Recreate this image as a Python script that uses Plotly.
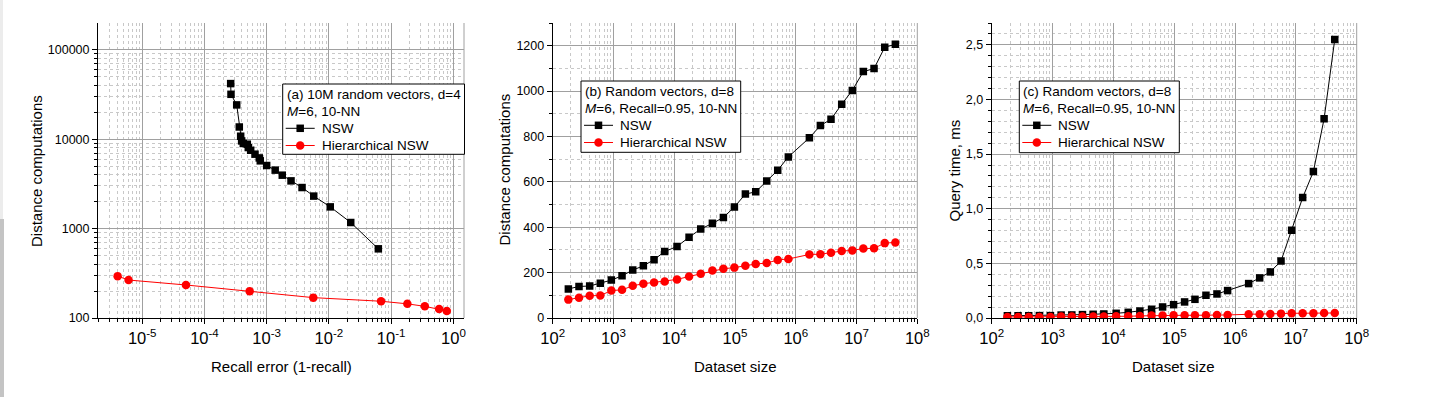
import plotly.graph_objects as go

# ---------------- data ----------------
# (a) recall error vs distance computations
a_nsw_err = [2.64e-4, 2.67e-4, 3.30e-4, 3.63e-4, 3.82e-4, 3.96e-4, 4.21e-4, 4.88e-4, 5.06e-4,
             5.53e-4, 6.49e-4, 7.60e-4, 7.89e-4, 1.0e-3, 1.37e-3, 1.78e-3, 2.46e-3, 3.70e-3,
             5.70e-3, 1.05e-2, 2.24e-2, 6.22e-2]
a_nsw_dist = [41900, 31800, 24200, 13700, 10800, 9570, 8960, 8790, 8070, 7530, 6800, 6180,
              5730, 5080, 4510, 3960, 3420, 2880, 2310, 1750, 1170, 594]
a_hnsw_err = [4.03e-6, 6.04e-6, 5.05e-5, 5.33e-4, 5.61e-3, 6.88e-2, 0.182, 0.347, 0.589, 0.783]
a_hnsw_dist = [294, 266, 234, 199, 169, 154, 144, 135, 126, 120]

# dataset sizes shared by (b) and (c)
sizes = [181, 271, 406, 608, 923, 1384, 2075, 3105, 4656, 6966, 11117, 17539, 27290, 42460,
         64420, 97720, 148250, 219300, 332650, 504700, 755100, 1675000, 2541000, 3802000,
         5702000, 8531000, 12940000, 19410000, 29110000, 43550000]

# (b) distance computations
b_nsw = [128, 139, 141, 153, 167, 186, 211, 230, 257, 293, 315, 356, 392, 417, 443, 489, 546,
         556, 604, 651, 710, 794, 848, 876, 942, 1003, 1086, 1099, 1193, 1206]
b_hnsw = [81, 89, 98, 99, 121, 124, 142, 151, 156, 161, 170, 183, 195, 209, 217, 222, 230, 238,
          242, 256, 260, 280, 281, 288, 295, 298, 306, 307, 330, 333]

# (c) query time, ms
c_nsw = [0.020, 0.021, 0.021, 0.022, 0.022, 0.027, 0.028, 0.031, 0.034, 0.037, 0.043, 0.052,
         0.064, 0.080, 0.101, 0.122, 0.147, 0.171, 0.208, 0.220, 0.251, 0.315, 0.367, 0.422,
         0.522, 0.803, 1.102, 1.340, 1.823, 2.549]
c_hnsw = [0.010, 0.010, 0.010, 0.010, 0.010, 0.013, 0.013, 0.013, 0.013, 0.013, 0.016, 0.016,
          0.019, 0.022, 0.022, 0.025, 0.025, 0.025, 0.025, 0.028, 0.028, 0.034, 0.034, 0.037,
          0.040, 0.043, 0.043, 0.043, 0.046, 0.046]

legend_headers = [["(a) 10M random vectors, d=4", "<i>M</i>=6, 10-NN"],
                  ["(b) Random vectors, d=8", "<i>M</i>=6, Recall=0.95, 10-NN"],
                  ["(c) Random vectors, d=8", "<i>M</i>=6, Recall=0.95, 10-NN"]]
series_names = ["NSW", "Hierarchical NSW"]
x_titles = ["Recall error (1-recall)", "Dataset size", "Dataset size"]
y_titles = ["Distance computations", "Distance computations", "Query time, ms"]

# ---------------- figure ----------------
W, H = 1443, 397
FONT = "Arial, Liberation Sans, sans-serif"
BLACK = "#000000"
RED = "#ff0000"

def px_x(p):
    return p / W

def px_y(p):
    return (H - p) / H

dom_y = [px_y(318), px_y(23)]
doms_x = [[px_x(98), px_x(464)], [px_x(552.7), px_x(917.3)], [px_x(991.7), px_x(1356.7)]]

fig = go.Figure()

datasets = [
    (a_nsw_err, a_nsw_dist, a_hnsw_err, a_hnsw_dist),
    (sizes, b_nsw, sizes, b_hnsw),
    (sizes, c_nsw, sizes, c_hnsw),
]
for i, (x1, y1, x2, y2) in enumerate(datasets):
    xa = "x" if i == 0 else f"x{i+1}"
    ya = "y" if i == 0 else f"y{i+1}"
    fig.add_trace(go.Scatter(x=x1, y=y1, mode="lines+markers", name=series_names[0],
                             line=dict(color=BLACK, width=1),
                             marker=dict(symbol="square", size=7.5, color=BLACK),
                             xaxis=xa, yaxis=ya, showlegend=False))
    fig.add_trace(go.Scatter(x=x2, y=y2, mode="lines+markers", name=series_names[1],
                             line=dict(color=RED, width=1),
                             marker=dict(symbol="circle", size=8.5, color=RED),
                             xaxis=xa, yaxis=ya, showlegend=False))

grid_major = "#a0a0a0"
grid_minor = "#c8c8c8"

def axis_common(**kw):
    d = dict(showline=True, linecolor=BLACK, linewidth=1, ticks="outside", ticklen=5,
             tickcolor=BLACK, tickwidth=1, showgrid=True, gridcolor=grid_major, gridwidth=1,
             zeroline=False, color=BLACK, automargin=False)
    d.update(kw)
    return d

x_log_small = [1e-5, 1e-4, 1e-3, 1e-2, 1e-1, 1e0]
x_log_small_text = ["10<sup>-5</sup>", "10<sup>-4</sup>", "10<sup>-3</sup>", "10<sup>-2</sup>",
                    "10<sup>-1</sup>", "10<sup>0</sup>"]
x_log_big = [1e2, 1e3, 1e4, 1e5, 1e6, 1e7, 1e8]
x_log_big_text = [f"10<sup>{k}</sup>" for k in range(2, 9)]

minor_log = dict(dtick="D1", ticks="outside", ticklen=3, tickcolor=BLACK,
                 showgrid=True, gridcolor=grid_minor, griddash="dot", gridwidth=1)

tickfont_x = dict(family=FONT, size=16.5, color=BLACK)
tickfont_y = dict(family=FONT, size=12.5, color=BLACK)

fig.update_layout(
    xaxis=axis_common(domain=doms_x[0], anchor="y", type="log", range=[-5.71, 0.17],
                      tickmode="array", tickvals=x_log_small, ticktext=x_log_small_text,
                      tickfont=tickfont_x, minor=minor_log),
    yaxis=axis_common(domain=dom_y, anchor="x", type="log", range=[2, 5.3],
                      tickmode="array", tickvals=[100, 1000, 10000, 100000],
                      ticktext=["100", "1000", "10000", "100000"],
                      tickfont=tickfont_y, minor=minor_log),
    xaxis2=axis_common(domain=doms_x[1], anchor="y2", type="log", range=[2, 8],
                       tickmode="array", tickvals=x_log_big, ticktext=x_log_big_text,
                       tickfont=tickfont_x, minor=minor_log),
    yaxis2=axis_common(domain=dom_y, anchor="x2", range=[0, 1300], tickmode="linear",
                       tick0=0, dtick=200, tickfont=tickfont_y,
                       minor=dict(dtick=100, ticks="outside", ticklen=3, tickcolor=BLACK,
                                  showgrid=True, gridcolor=grid_minor, griddash="dot")),
    xaxis3=axis_common(domain=doms_x[2], anchor="y3", type="log", range=[2, 8],
                       tickmode="array", tickvals=x_log_big, ticktext=x_log_big_text,
                       tickfont=tickfont_x, minor=minor_log),
    yaxis3=axis_common(domain=dom_y, anchor="x3", range=[0, 2.7], tickmode="array",
                       tickvals=[0, 0.5, 1.0, 1.5, 2.0, 2.5],
                       ticktext=["0,0", "0,5", "1,0", "1,5", "2,0", "2,5"], tickfont=tickfont_y,
                       minor=dict(tick0=0, dtick=0.1, ticks="outside", ticklen=3, tickcolor=BLACK,
                                  showgrid=True, gridcolor=grid_minor, griddash="dot")),
)

annotations = []
shapes = []

# axis titles
xt_pos = [(281.7, 366.5), (735, 366.5), (1173.7, 366.5)]
yt_pos = [(36.5, 171.5), (503.5, 170), (953.5, 171)]
for i in range(3):
    annotations.append(dict(text=x_titles[i], x=px_x(xt_pos[i][0]), y=px_y(xt_pos[i][1]),
                            xref="paper", yref="paper", showarrow=False, xanchor="center",
                            yanchor="middle", font=dict(family=FONT, size=15, color=BLACK)))
    annotations.append(dict(text=y_titles[i], x=px_x(yt_pos[i][0]), y=px_y(yt_pos[i][1]),
                            xref="paper", yref="paper", showarrow=False, xanchor="center",
                            yanchor="middle", textangle=-90,
                            font=dict(family=FONT, size=15, color=BLACK)))

# right-hand frame line of every panel
for i in range(3):
    xr = "x domain" if i == 0 else f"x{i+1} domain"
    yr = "y domain" if i == 0 else f"y{i+1} domain"
    shapes.append(dict(type="line", xref=xr, yref=yr, x0=1, x1=1, y0=0, y1=1,
                       line=dict(color=grid_major, width=1)))

# hand-built legends (box, header lines, sample line + marker, label)
legend_boxes = [(282.7, 84, 464.5, 154.3), (581, 81, 740.7, 152.3), (1019.3, 81, 1179.3, 152.7)]
LEG_FONT = dict(family=FONT, size=13.5, color=BLACK)
row_off = [10.2, 27.2, 44.3, 61.5]
for i, (bx0, by0, bx1, by1) in enumerate(legend_boxes):
    shapes.append(dict(type="rect", xref="paper", yref="paper", x0=px_x(bx0), x1=px_x(bx1),
                       y0=px_y(by1), y1=px_y(by0), fillcolor="white",
                       line=dict(color=BLACK, width=1), layer="above"))
    for r, txt in enumerate(legend_headers[i]):
        annotations.append(dict(text=txt, x=px_x(bx0 + 2.0), y=px_y(by0 + row_off[r]),
                                xref="paper", yref="paper", showarrow=False, xanchor="left",
                                yanchor="middle", font=LEG_FONT))
    for k, (col, sym) in enumerate([(BLACK, "square"), (RED, "circle")]):
        yy = by0 + row_off[2 + k]
        shapes.append(dict(type="line", xref="paper", yref="paper", x0=px_x(bx0 + 3),
                           x1=px_x(bx0 + 32), y0=px_y(yy), y1=px_y(yy),
                           line=dict(color=col, width=1), layer="above"))
        half = 3.75 if sym == "square" else 4.25
        shapes.append(dict(type="rect" if sym == "square" else "circle",
                           xref="paper", yref="paper", xsizemode="pixel", ysizemode="pixel",
                           xanchor=px_x(bx0 + 17.5), yanchor=px_y(yy),
                           x0=-half, x1=half, y0=-half, y1=half,
                           fillcolor=col, line=dict(color=col, width=0), layer="above"))
        annotations.append(dict(text=series_names[k], x=px_x(bx0 + 37.0), y=px_y(yy),
                                xref="paper", yref="paper", showarrow=False, xanchor="left",
                                yanchor="middle", font=LEG_FONT))

# browser edge strip at far left of the screenshot
shapes.append(dict(type="rect", xref="paper", yref="paper", x0=0, x1=px_x(3), y0=px_y(219), y1=1,
                   fillcolor="#ececec", line=dict(width=0), layer="below"))
shapes.append(dict(type="rect", xref="paper", yref="paper", x0=0, x1=px_x(4), y0=0, y1=px_y(219),
                   fillcolor="#c4c4c4", line=dict(width=0), layer="below"))

fig.update_layout(
    width=W, height=H, autosize=False,
    margin=dict(l=0, r=0, t=0, b=0, pad=0),
    paper_bgcolor="white", plot_bgcolor="white", showlegend=False,
    font=dict(family=FONT, size=13, color=BLACK),
    annotations=annotations, shapes=shapes,
)

# remove the default 8px page margin so the figure sits at the window origin
fig.write_html("out.html", config={"displayModeBar": False},
               post_script="document.body.style.margin='0px';document.body.style.overflow='hidden';")
